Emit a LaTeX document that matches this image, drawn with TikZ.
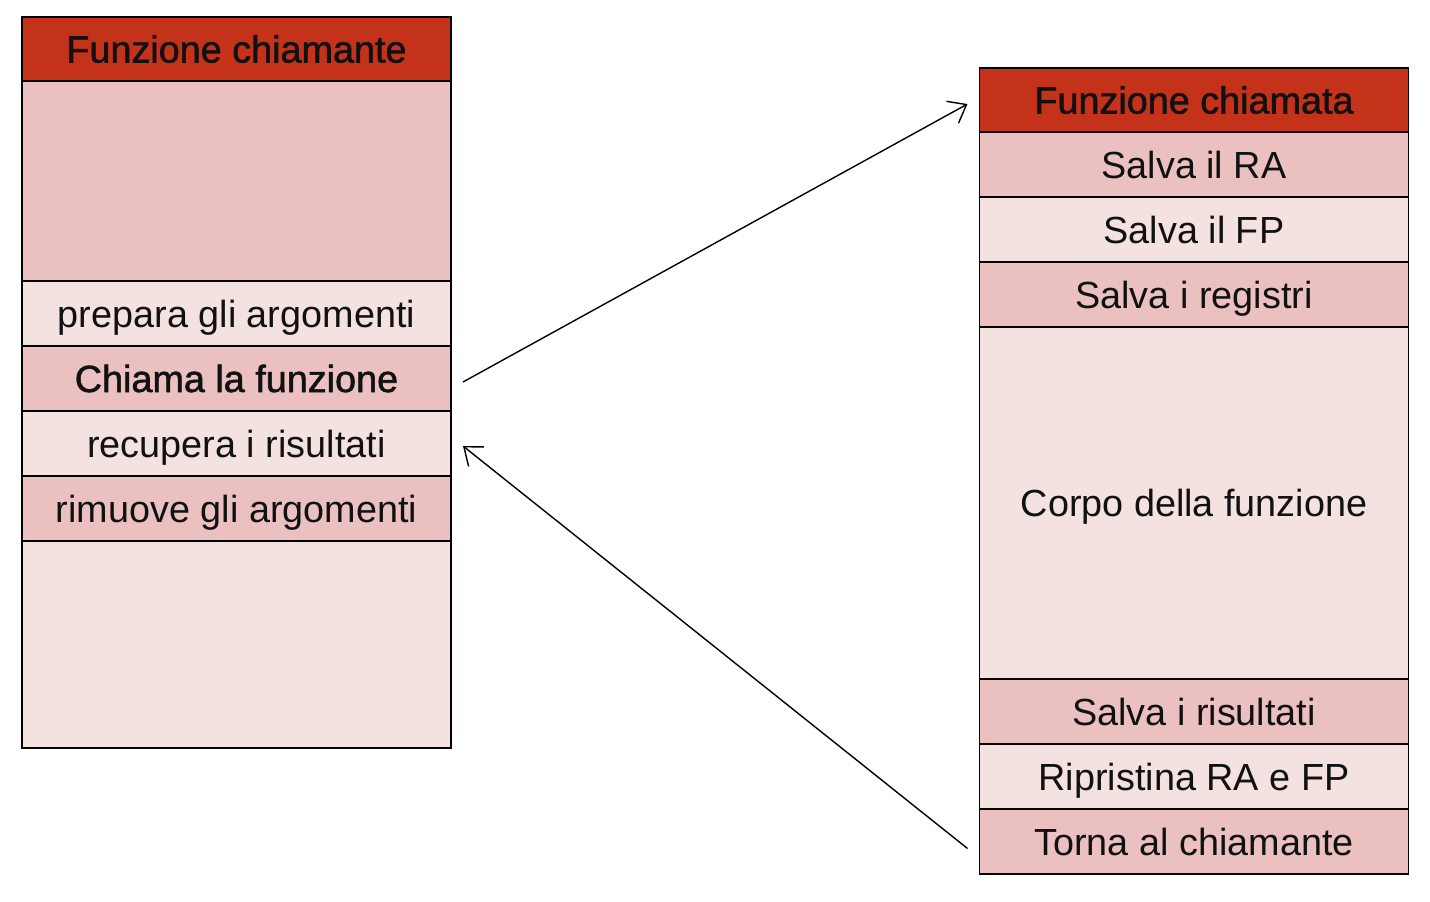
\documentclass[tikz,border=0pt]{standalone}
\usepackage{fontspec}
\setmainfont{Liberation Sans}
\newfontfamily\medfont[FakeBold=1.5]{Liberation Sans}
\usetikzlibrary{positioning, arrows.meta}
\definecolor{rossotesta}{HTML}{C5321A}
\definecolor{rosascuro}{HTML}{EAC1C0}
\definecolor{rosachiaro}{HTML}{F4E2E1}
\definecolor{testo}{HTML}{111111}

\tikzset{
  cella/.style={draw, line width=1.1pt, minimum width=8.58cm, minimum height=1.3cm,
    inner sep=0pt, outer sep=0pt, align=center, text=testo,
    text height=0.54cm, text depth=0pt,
    font=\fontsize{21.5}{25}\selectfont},
  scura/.style={cella, fill=rosascuro},
  chiara/.style={cella, fill=rosachiaro},
  testata/.style={cella, fill=rossotesta, minimum height=1.28cm,
    font=\fontsize{21.5}{25}\selectfont\medfont},
  freccia/.style={-{Straight Barb[length=3.2mm, width=5mm]}, line width=0.8pt},
}

\begin{document}
\begin{tikzpicture}
  \useasboundingbox (0,0) rectangle (28.6,-18.04);
  % funzione chiamante
  \node[testata] (chiamante) at (4.73,-0.98) {Funzione chiamante};
  \node[scura, minimum height=4cm, below=0pt of chiamante] (vuotosu) {};
  \node[chiara, below=0pt of vuotosu] (prepara) {prepara gli argomenti};
  \node[scura, below=0pt of prepara, font=\fontsize{21.5}{25}\selectfont\medfont] (chiama) {Chiama la funzione};
  \node[chiara, below=0pt of chiama] (recupera) {recupera i risultati};
  \node[scura, below=0pt of recupera] (rimuove) {rimuove gli argomenti};
  \node[chiara, minimum height=4.14cm, below=0pt of rimuove] (vuotogiu) {};
  % funzione chiamata
  \node[testata] (chiamata) at (23.88,-2.0) {Funzione chiamata};
  \node[scura, below=0pt of chiamata] (salvara) {Salva il RA};
  \node[chiara, below=0pt of salvara] (salvafp) {Salva il FP};
  \node[scura, below=0pt of salvafp] (registri) {Salva i registri};
  \node[chiara, minimum height=7.04cm, below=0pt of registri] (corpo) {Corpo della funzione};
  \node[scura, below=0pt of corpo] (risultati) {Salva i risultati};
  \node[chiara, below=0pt of risultati] (ripristina) {Ripristina RA e FP};
  \node[scura, below=0pt of ripristina] (torna) {Torna al chiamante};
  % chiamata e ritorno
  \draw[freccia] ([xshift=0.24cm, yshift=-0.07cm]chiama.east) -- ([xshift=-0.24cm, yshift=-0.08cm]chiamata.west);
  \draw[freccia] ([xshift=-0.24cm, yshift=-0.14cm]torna.west) -- ([xshift=0.24cm, yshift=-0.05cm]recupera.east);
\end{tikzpicture}
\end{document}
